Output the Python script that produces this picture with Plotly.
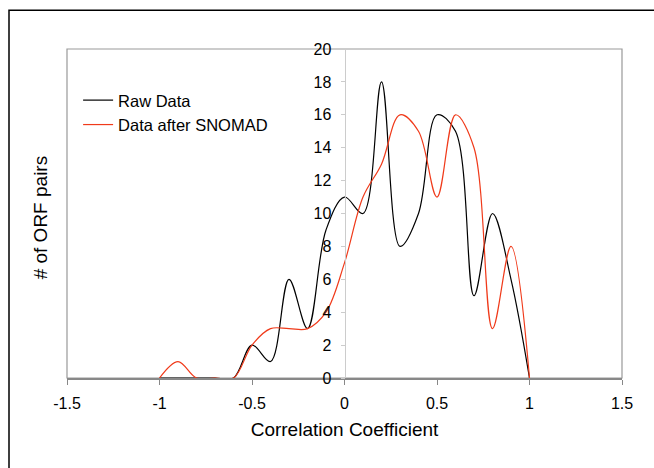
import plotly.graph_objects as go

x_vals = [-1.0, -0.9, -0.8, -0.7, -0.6, -0.5, -0.4, -0.3, -0.2, -0.1, 0.0,
          0.1, 0.2, 0.3, 0.4, 0.5, 0.6, 0.7, 0.8, 0.9, 1.0]
raw_data = [0, 0, 0, 0, 0, 2, 1, 6, 3, 9, 11, 10, 18, 8, 10, 16, 15, 5, 10, 6, 0]
snomad_data = [0, 1, 0, 0, 0, 2, 3, 3, 3, 4, 7, 11, 13, 16, 15, 11, 16, 14, 3, 8, 0]
x_ticks = [-1.5, -1, -0.5, 0, 0.5, 1, 1.5]
y_ticks = [0, 2, 4, 6, 8, 10, 12, 14, 16, 18, 20]

FONT = "Liberation Sans, Arial, sans-serif"

fig = go.Figure()
fig.add_trace(go.Scatter(
    x=x_vals, y=raw_data, mode="lines", name="Raw Data",
    line=dict(color="#000000", width=1.2, shape="spline", smoothing=1.0),
))
fig.add_trace(go.Scatter(
    x=x_vals, y=snomad_data, mode="lines", name="Data after SNOMAD",
    line=dict(color="#f03a1a", width=1.2, shape="spline", smoothing=1.0),
))

fig.update_layout(
    width=654, height=468,
    margin=dict(l=67, r=32, t=49, b=90),
    paper_bgcolor="white", plot_bgcolor="white",
    font=dict(family=FONT, color="black", size=16),
    showlegend=True,
    legend=dict(x=0.02, y=0.897, xanchor="left", yanchor="top",
                bgcolor="rgba(0,0,0,0)", font=dict(size=16.5),
                itemwidth=30, tracegroupgap=0),
    xaxis=dict(range=[-1.5, 1.5], tickvals=x_ticks,
               ticktext=[str(v) for v in x_ticks],
               showgrid=False, zeroline=False,
               showline=True, linecolor="#888888", linewidth=1.5,
               ticks="outside", ticklen=5, tickcolor="#888888",
               ticklabelstandoff=5,
               tickfont=dict(size=16),
               title=dict(text="Correlation Coefficient", font=dict(size=19),
                          standoff=12)),
    yaxis=dict(range=[0, 20], tickvals=y_ticks,
               showgrid=False, zeroline=False,
               anchor="free", position=0.5,
               showline=True, linecolor="#cccccc", linewidth=1,
               ticks="outside", ticklen=4, tickcolor="#cccccc",
               ticklabelstandoff=6,
               tickfont=dict(size=16),
               title=dict(text="")),
    shapes=[
        dict(type="rect", xref="paper", yref="paper", x0=0, x1=1, y0=0, y1=1,
             line=dict(color="#999999", width=1.2), layer="below"),
        dict(type="rect", xref="paper", yref="paper",
             x0=-0.1045, x1=1.1, y0=-0.33, y1=1.118,
             line=dict(color="black", width=1.5), layer="below"),
    ],
    annotations=[
        dict(text="# of ORF pairs", xref="paper", yref="paper",
             x=-0.047, y=0.488, textangle=-90, showarrow=False,
             xanchor="center", yanchor="middle", font=dict(size=19)),
    ],
)

fig.write_html("out.html", config={"displayModeBar": False},
               post_script="document.body.style.margin='0';")
